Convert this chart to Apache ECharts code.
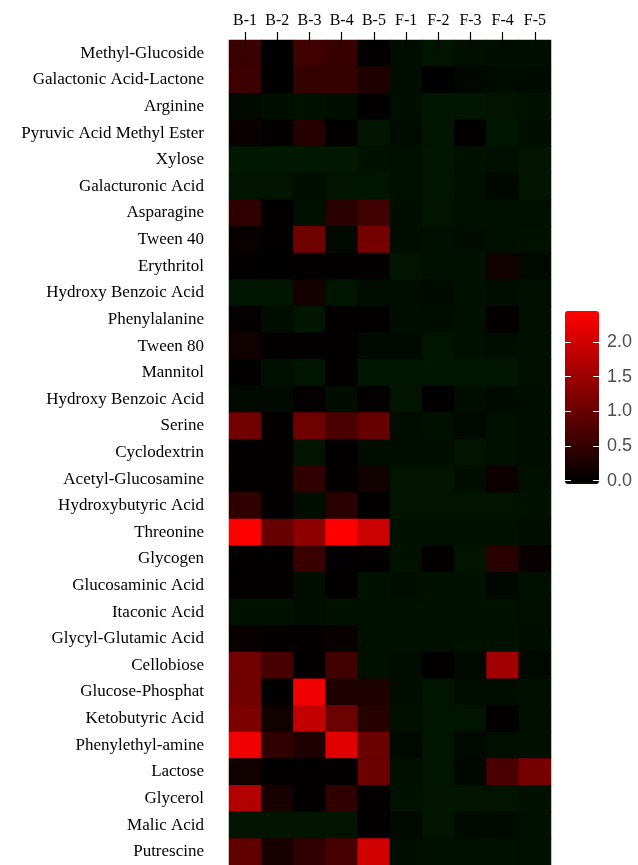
<!DOCTYPE html>
<html><head><meta charset="utf-8">
<script src="https://cdn.jsdelivr.net/npm/echarts@6/dist/echarts.min.js"></script>
<style>html,body{margin:0;padding:0;background:#fff;}#c{width:638px;height:865px;}</style>
</head><body><div id="c"></div>
<script>
const substrates = ['Methyl-Glucoside','Galactonic Acid-Lactone','Arginine','Pyruvic Acid Methyl Ester','Xylose','Galacturonic Acid','Asparagine','Tween 40','Erythritol','Hydroxy Benzoic Acid','Phenylalanine','Tween 80','Mannitol','Hydroxy Benzoic Acid','Serine','Cyclodextrin','Acetyl-Glucosamine','Hydroxybutyric Acid','Threonine','Glycogen','Glucosaminic Acid','Itaconic Acid','Glycyl-Glutamic Acid','Cellobiose','Glucose-Phosphat','Ketobutyric Acid','Phenylethyl-amine','Lactose','Glycerol','Malic Acid','Putrescine'];
const samples = ['B-1','B-2','B-3','B-4','B-5','F-1','F-2','F-3','F-4','F-5'];
const B1 = [0.56,0.58,-0.015,0.1,-0.045,-0.035,0.46,0.08,0.03,-0.038,0.05,0.15,0.03,-0.019,1.09,0.02,0.04,0.46,2.45,0.03,0.04,-0.03,0.08,1.09,1.09,1.19,2.31,0.15,1.71,-0.035,0.92];
const B2 = [0.0,0.0,-0.025,0.05,-0.045,-0.035,0.03,0.02,0.0,-0.038,-0.023,0.02,-0.028,-0.019,0.05,0.03,0.04,0.02,0.98,0.03,0.04,-0.03,0.05,0.68,0.02,0.15,0.46,0.03,0.23,-0.035,0.23];
const B3 = [0.62,0.5,-0.03,0.36,-0.045,-0.023,-0.028,1.07,0.04,0.2,-0.038,0.02,-0.038,0.05,1.07,-0.035,0.46,-0.023,1.36,0.55,-0.023,-0.023,0.05,0.02,2.31,1.87,0.3,0.02,0.02,-0.035,0.46];
const B4 = [0.55,0.52,-0.025,0.03,-0.045,-0.035,0.38,-0.015,0.03,-0.038,0.03,0.03,0.04,-0.023,0.72,0.02,0.03,0.38,2.45,0.02,0.03,-0.03,0.08,0.62,0.3,1.03,2.15,0.02,0.46,-0.035,0.68];
const B5 = [0.02,0.3,0.03,-0.035,-0.03,-0.038,0.62,1.12,0.02,-0.023,0.03,-0.019,-0.04,0.04,0.98,-0.023,0.15,0.03,1.95,0.03,-0.03,-0.03,-0.028,-0.028,0.3,0.36,1.03,1.03,0.02,0.02,2.02];
const F1 = [-0.023,-0.023,-0.025,-0.02,-0.028,-0.028,-0.023,-0.023,-0.035,-0.023,-0.023,-0.019,-0.04,-0.035,-0.023,-0.023,-0.035,-0.035,-0.03,-0.03,-0.023,-0.03,-0.028,-0.023,-0.023,-0.027,-0.015,-0.027,-0.03,-0.015,-0.023];
const F2 = [-0.035,0.0,-0.04,-0.038,-0.04,-0.04,-0.035,-0.028,-0.028,-0.019,-0.023,-0.038,-0.04,0.02,-0.028,-0.023,-0.035,-0.035,-0.03,0.05,-0.03,-0.03,-0.028,0.03,-0.038,-0.038,-0.038,-0.038,-0.035,-0.035,-0.03];
const F3 = [-0.027,-0.01,-0.04,0.02,-0.03,-0.028,-0.028,-0.023,-0.03,-0.03,-0.028,-0.028,-0.04,-0.023,-0.015,-0.035,-0.023,-0.035,-0.03,-0.035,-0.03,-0.03,-0.03,-0.015,-0.023,-0.035,-0.015,-0.012,-0.035,-0.019,-0.03];
const F4 = [-0.025,-0.02,-0.035,-0.04,-0.027,-0.01,-0.028,-0.028,0.15,-0.023,0.05,-0.023,-0.04,-0.017,-0.028,-0.028,0.12,-0.035,-0.03,0.38,-0.01,-0.03,-0.03,1.56,-0.023,0.02,-0.027,0.72,-0.035,-0.019,-0.03];
const F5 = [-0.025,-0.018,-0.03,-0.025,-0.035,-0.035,-0.028,-0.03,-0.015,-0.027,-0.027,-0.027,-0.027,-0.023,-0.023,-0.023,-0.028,-0.03,-0.023,0.08,-0.028,-0.027,-0.023,-0.015,-0.027,-0.027,-0.027,1.14,-0.03,-0.028,-0.028];
const legendTicks = [0, 0.5, 1, 1.5, 2];
const scaleMin = -0.05, scaleMax = 2.45;

const columns = [B1,B2,B3,B4,B5,F1,F2,F3,F4,F5];
const data = [];
columns.forEach((col, x) => col.forEach((v, y) => data.push([x, y, v])));

// green-black-red ramp
const ramp = [];
const N = 251;
for (let i = 0; i < N; i++) {
  const v = scaleMin + (scaleMax - scaleMin) * i / (N - 1);
  if (v < 0) { const g = Math.round(-v / -scaleMin * 28); ramp.push('rgb(0,' + g + ',0)'); }
  else { const r = Math.round(v / scaleMax * 255); ramp.push('rgb(' + r + ',0,0)'); }
}

const chart = echarts.init(document.getElementById('c'), null, {renderer: 'canvas'});
const serif = 'Liberation Serif';
chart.setOption({
  backgroundColor: '#ffffff',
  animation: false,
  grid: [
    {left: 229, top: 40, width: 322, height: 826.7, show: true, backgroundColor: '#000d00', borderWidth: 0},
    {left: 565, top: 311, width: 34, height: 173}
  ],
  xAxis: [
    {type: 'category', gridIndex: 0, position: 'top', data: samples,
     axisLine: {show: false}, splitLine: {show: false},
     axisTick: {show: true, alignWithLabel: true, length: 8, lineStyle: {color: '#000', width: 1.2}},
     axisLabel: {fontFamily: serif, fontSize: 16, color: '#000', margin: 11}},
    {type: 'category', gridIndex: 0, position: 'top', data: samples,
     axisLine: {show: false}, splitLine: {show: false},
     axisTick: {show: true, inside: true, alignWithLabel: true, length: 9, lineStyle: {color: '#000', width: 1.2}},
     axisLabel: {show: false}, z: 10},
    {type: 'value', gridIndex: 1, show: false, min: 0, max: 1}
  ],
  yAxis: [
    {type: 'category', gridIndex: 0, data: substrates, inverse: true,
     axisLine: {show: false}, axisTick: {show: false}, splitLine: {show: false},
     axisLabel: {fontFamily: serif, fontSize: 17, color: '#000', margin: 25}},
    {type: 'value', gridIndex: 1, position: 'left', min: scaleMin, max: scaleMax, z: 10,
     axisLine: {show: false}, splitLine: {show: false},
     axisTick: {show: true, inside: true, length: 6, customValues: legendTicks, lineStyle: {color: '#ffffff', width: 1}},
     axisLabel: {show: false}},
    {type: 'value', gridIndex: 1, position: 'right', min: scaleMin, max: scaleMax, z: 10,
     axisLine: {show: false}, splitLine: {show: false},
     axisTick: {show: true, inside: true, length: 6, customValues: legendTicks, lineStyle: {color: '#ffffff', width: 1}},
     axisLabel: {show: true, customValues: legendTicks, margin: 8, fontFamily: 'Liberation Sans', fontSize: 18, color: '#4d4d4d',
       formatter: v => Number(v).toFixed(1)}}
  ],
  visualMap: {
    type: 'continuous', seriesIndex: 0, min: scaleMin, max: scaleMax,
    left: 565, top: 311, itemWidth: 34, itemHeight: 173, padding: 0,
    calculable: false, text: null, hoverLink: false,
    inRange: {color: ramp}
  },
  series: [{
    type: 'heatmap', xAxisIndex: 0, yAxisIndex: 0, data: data,
    itemStyle: {borderWidth: 0},
    emphasis: {disabled: true}
  }]
});
</script>
</body></html>
